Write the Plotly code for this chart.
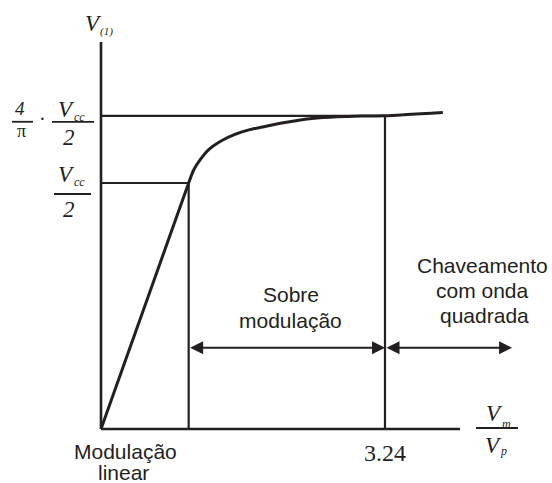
import math
import plotly.graph_objects as go

# Fundamental output voltage V(1) (in units of Vcc/2) versus modulation ratio Vm/Vp
m_linear = [0.0, 1.0]
v_linear = [0.0, 1.0]

m_over = [1.0, 1.057, 1.132, 1.232, 1.380, 1.528, 1.688, 1.870, 2.064,
          2.258, 2.407, 2.692, 2.977, 3.24, 3.90]
v_over = [1.0, 1.053, 1.095, 1.137, 1.173, 1.198, 1.216, 1.230, 1.244,
          1.255, 1.262, 1.269, 1.2722, 4 / math.pi, 1.2865]

m_limit = 1.0            # end of linear modulation
m_square = 3.24          # start of square-wave switching
v_half = 1.0             # Vcc/2
v_sat = 4 / math.pi      # (4/pi)·Vcc/2

x_tick_labels = ["3.24"]

W, H = 552, 483
INK = "#231f20"
SERIF = "Liberation Serif, Times New Roman, serif"
SANS = "Liberation Sans, Arial, sans-serif"


def X(px):
    return px / W


def Y(py):
    return 1 - py / H


fig = go.Figure()

fig.add_trace(go.Scatter(x=m_linear, y=v_linear, mode="lines",
                         line=dict(color=INK, width=3), hoverinfo="skip"))
fig.add_trace(go.Scatter(x=m_over, y=v_over, mode="lines",
                         line=dict(color=INK, width=3, shape="spline", smoothing=0.6),
                         hoverinfo="skip"))

shapes = []
# axes
shapes.append(dict(type="line", xref="x", yref="y", x0=0, y0=0, x1=4.096, y1=0,
                   line=dict(color=INK, width=2.6)))
shapes.append(dict(type="line", xref="x", yref="y", x0=0, y0=0, x1=0, y1=1.573,
                   line=dict(color=INK, width=2.6)))
# guide lines
shapes.append(dict(type="line", xref="x", yref="y", x0=0, y0=v_half, x1=m_limit, y1=v_half,
                   line=dict(color=INK, width=2.2)))
shapes.append(dict(type="line", xref="x", yref="y", x0=m_limit, y0=0, x1=m_limit, y1=v_half,
                   line=dict(color=INK, width=2.2)))
shapes.append(dict(type="line", xref="x", yref="y", x0=0, y0=v_sat, x1=m_square, y1=v_sat,
                   line=dict(color=INK, width=2.2)))
shapes.append(dict(type="line", xref="x", yref="y", x0=m_square, y0=0, x1=m_square, y1=v_sat,
                   line=dict(color=INK, width=2.2)))


def frac_bar(level, off_px, px0, px1):
    shapes.append(dict(type="line", xref="paper", yref="y", ysizemode="pixel",
                       yanchor=level, y0=-off_px, y1=-off_px, x0=X(px0), x1=X(px1),
                       line=dict(color=INK, width=1.8)))


frac_bar(v_sat, 6, 12, 33)
frac_bar(v_sat, 6, 52, 94)
frac_bar(v_half, 11, 54, 91)
shapes.append(dict(type="line", xref="paper", yref="paper", x0=X(476), x1=X(518),
                   y0=Y(428), y1=Y(428), line=dict(color=INK, width=1.8)))

annotations = []


def txt(text, px, py, size, family=SERIF):
    annotations.append(dict(text=text, x=X(px), y=Y(py), xref="paper", yref="paper",
                            xanchor="center", yanchor="middle", showarrow=False,
                            font=dict(size=size, family=family, color=INK)))


def lvl_txt(text, px, level, off_px, size, family=SERIF):
    annotations.append(dict(text=text, x=X(px), y=level, xref="paper", yref="y",
                            yshift=-off_px, xanchor="center", yanchor="middle",
                            showarrow=False,
                            font=dict(size=size, family=family, color=INK)))


# y-axis title
txt("<i>V</i>", 93.5, 23, 23)
txt("<i>(1)</i>", 106, 32, 11)

# (4/pi)·Vcc/2 label
lvl_txt("<i>4</i>", 20, v_sat, -7, 19)
lvl_txt("π", 21, v_sat, 15, 18)
lvl_txt("·", 42, v_sat, 3, 20)
lvl_txt("<i>V</i>", 66, v_sat, -6.5, 23)
lvl_txt("<i>cc</i>", 79, v_sat, 1, 12)
lvl_txt("<i>2</i>", 69, v_sat, 22, 23)

# Vcc/2 label
lvl_txt("<i>V</i>", 66, v_half, -8.5, 23)
lvl_txt("<i>cc</i>", 79, v_half, -1, 12)
lvl_txt("<i>2</i>", 69, v_half, 26, 23)

# x-axis title Vm/Vp
txt("<i>V</i>", 494.5, 413.5, 23)
txt("<i>m</i>", 506, 424, 12)
txt("<i>V</i>", 493.5, 445, 23)
txt("<i>p</i>", 503, 451, 12)

# tick label at m_square
annotations.append(dict(text=x_tick_labels[0], x=m_square, y=Y(452.5), xref="x", yref="paper",
                        xanchor="center", yanchor="middle", showarrow=False,
                        font=dict(size=24, family=SERIF, color=INK)))

# region labels
txt("Modulação", 125.5, 451.5, 21, SANS)
txt("linear", 123, 472.5, 21, SANS)
txt("Sobre", 290.5, 294, 21, SANS)
txt("modulação", 290.5, 320.5, 21, SANS)
txt("Chaveamento", 482.5, 265, 21, SANS)
txt("com onda", 482.5, 290, 21, SANS)
txt("quadrada", 484, 315, 21, SANS)

# region arrows
arrow_v = 0.33
for x_start, x_end in [(m_limit, m_square), (m_square, 4.69)]:
    annotations.append(dict(x=x_end, y=arrow_v, ax=x_start, ay=arrow_v,
                            xref="x", yref="y", axref="x", ayref="y",
                            text="", showarrow=True, arrowside="end+start",
                            arrowhead=2, startarrowhead=2, arrowsize=1.3,
                            startarrowsize=1.3, arrowwidth=2, arrowcolor=INK,
                            standoff=0, startstandoff=0))

fig.update_layout(
    width=W, height=H,
    margin=dict(l=0, r=0, t=0, b=0),
    paper_bgcolor="white", plot_bgcolor="white",
    showlegend=False,
    xaxis=dict(range=[-1.1523, 5.1455], visible=False, fixedrange=True),
    yaxis=dict(range=[-0.2195, 1.7439], visible=False, fixedrange=True),
    shapes=shapes,
    annotations=annotations,
)

fig.write_html("out.html")
